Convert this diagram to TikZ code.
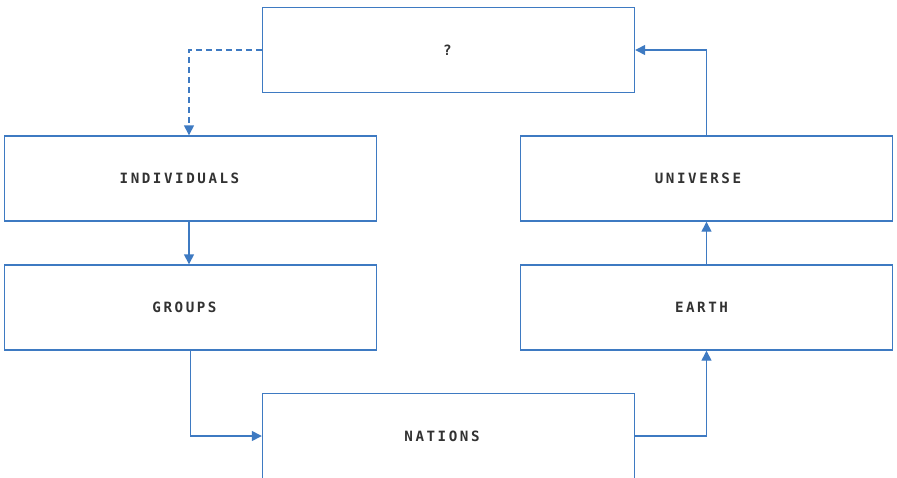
\documentclass[tikz,border=0pt]{standalone}
\usepackage{fontspec}
\setmonofont{DejaVu Sans Mono}[LetterSpace=18]
\usetikzlibrary{arrows.meta}
\definecolor{lineblue}{RGB}{62,122,194}
\definecolor{txtgray}{RGB}{50,50,50}
\newcommand{\lbl}[2]{#1\hspace*{#2pt}}
\begin{document}
\begin{tikzpicture}[x=1pt,y=-1pt,
  box/.style={draw=lineblue, line width=1.4pt, minimum width=372pt, minimum height=85pt, inner sep=0pt,
    font=\ttfamily\bfseries\fontsize{14.2}{16}\selectfont, text=txtgray},
  conn/.style={draw=lineblue, line width=1.4pt, -{Triangle[length=10pt,width=10pt]}},
  dconn/.style={conn, dash pattern=on 6pt off 4pt}]
\useasboundingbox (0,0) rectangle (897,477);
\node[box] (q) at (448.5,50) {\lbl{?}{2}};
\node[box] (ind) at (190.5,178.5) {\lbl{INDIVIDUALS}{22}};
\node[box] (grp) at (190.5,307.5) {\lbl{GROUPS}{12}};
\node[box] (uni) at (706.5,178.5) {\lbl{UNIVERSE}{17}};
\node[box] (earth) at (706.5,307.5) {\lbl{EARTH}{10}};
\node[box] (nat) at (448.5,436) {\lbl{NATIONS}{13}};
\draw[dconn] (q.west) -| ([xshift=-1.5pt]ind.north);
\draw[conn] ([xshift=-1.5pt]ind.south) -- ([xshift=-1.5pt]grp.north);
\draw[conn] (grp.south) |- (nat.west);
\draw[conn] (nat.east) -| (earth.south);
\draw[conn] (earth.north) -- (uni.south);
\draw[conn] (uni.north) |- (q.east);
\end{tikzpicture}
\end{document}
